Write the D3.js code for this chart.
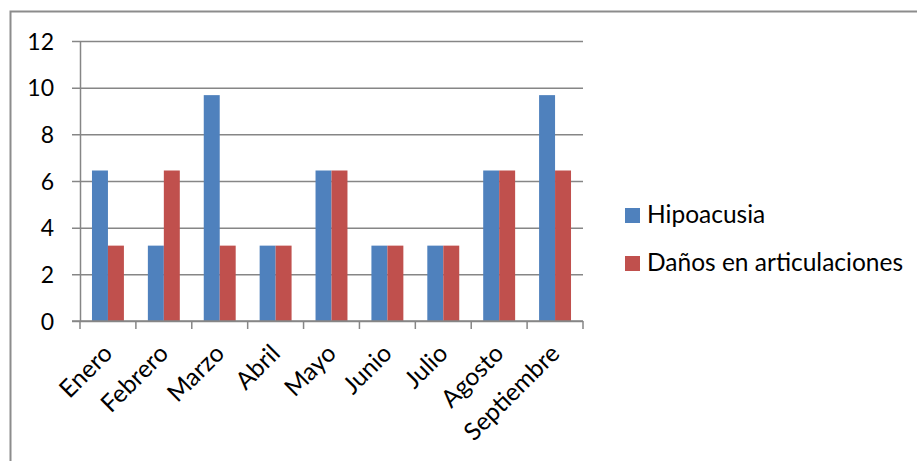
<!DOCTYPE html>
<html>
<head>
<meta charset="utf-8">
<script src="https://cdn.jsdelivr.net/npm/d3@7"></script>
<style>
  html, body { margin: 0; padding: 0; background: #fff; }
  svg { display: block; }
  text { font-family: Lato, "Open Sans", sans-serif; fill: #000; }
</style>
</head>
<body>
<svg id="chart" width="917" height="461"></svg>
<script>
const categories = ["Enero", "Febrero", "Marzo", "Abril", "Mayo", "Junio", "Julio", "Agosto", "Septiembre"];
const seriesNames = ["Hipoacusia", "Daños en articulaciones"];
const hipoacusia = [6.45, 3.23, 9.68, 3.23, 6.45, 3.23, 3.23, 6.45, 9.68];
const danos = [3.23, 6.45, 3.23, 3.23, 6.45, 3.23, 3.23, 6.45, 6.45];
const seriesColors = ["#4F81BD", "#C0504D"];
const yTicks = [0, 2, 4, 6, 8, 10, 12];

const seriesValues = [hipoacusia, danos];
const FONT = 24.5;
const TICKFONT = 23;
const gridColor = "#868686";

const svg = d3.select("#chart");

// outer chart border (only left/top visible in frame)
svg.append("rect")
  .attr("x", 10.5).attr("y", 11.5)
  .attr("width", 1000).attr("height", 1000)
  .attr("fill", "none").attr("stroke", "#8c8c8c").attr("stroke-width", 2);

const plotLeft = 80, plotRight = 583, plotTop = 41, plotBottom = 321;

const x = d3.scaleBand().domain(categories).range([plotLeft, plotRight]).paddingInner(0).paddingOuter(0);
const x1 = d3.scaleBand().domain(seriesNames).range([0, x.bandwidth()]).paddingInner(0).paddingOuter(0.75);
const y = d3.scaleLinear().domain([0, 12]).range([plotBottom, plotTop]);

// y axis with gridlines
const yAxis = svg.append("g")
  .attr("transform", `translate(${plotLeft},0)`)
  .call(d3.axisLeft(y).tickValues(yTicks).tickSizeInner(-(plotRight - plotLeft)).tickSizeOuter(0).tickPadding(26));
yAxis.select(".domain").attr("stroke", gridColor).attr("stroke-width", 1.5);
yAxis.selectAll(".tick line")
  .attr("x1", -8)
  .attr("stroke", gridColor).attr("stroke-width", 1.5);
yAxis.selectAll(".tick text")
  .attr("font-size", TICKFONT).attr("font-family", "Lato, sans-serif").attr("fill", "#000")
  .attr("dy", "0.36em");

// bars
const groups = svg.append("g").selectAll("g")
  .data(categories)
  .join("g")
  .attr("transform", d => `translate(${x(d)},0)`);
groups.selectAll("rect")
  .data((c, i) => seriesNames.map((s, j) => ({ s, v: seriesValues[j][i], color: seriesColors[j] })))
  .join("rect")
  .attr("x", d => x1(d.s))
  .attr("width", x1.bandwidth())
  .attr("y", d => y(d.v))
  .attr("height", d => y(0) - y(d.v))
  .attr("fill", d => d.color);

// x axis line and boundary ticks
const xAxisG = svg.append("g");
xAxisG.append("line")
  .attr("x1", plotLeft - 8).attr("x2", plotRight)
  .attr("y1", y(0)).attr("y2", y(0))
  .attr("stroke", gridColor).attr("stroke-width", 1.5);
const boundaries = categories.map(c => x(c)).concat([x.range()[1]]);
xAxisG.selectAll("line.tk")
  .data(boundaries)
  .join("line")
  .attr("class", "tk")
  .attr("x1", d => d).attr("x2", d => d)
  .attr("y1", y(0)).attr("y2", y(0) + 8)
  .attr("stroke", gridColor).attr("stroke-width", 1.5);

// rotated category labels
xAxisG.selectAll("text")
  .data(categories)
  .join("text")
  .attr("transform", d => `translate(${x(d) + x.bandwidth() / 2 + 6},${y(0) + 34}) rotate(-45)`)
  .attr("text-anchor", "end")
  .attr("font-size", FONT)
  .text(d => d);

// legend
const legend = svg.append("g").selectAll("g")
  .data(seriesNames)
  .join("g")
  .attr("transform", (d, i) => `translate(625,${208 + i * 48})`);
legend.append("rect")
  .attr("width", 15).attr("height", 15)
  .attr("fill", (d, i) => seriesColors[i]);
legend.append("text")
  .attr("x", 22).attr("y", 15)
  .attr("font-size", FONT)
  .text(d => d);
</script>
</body>
</html>
